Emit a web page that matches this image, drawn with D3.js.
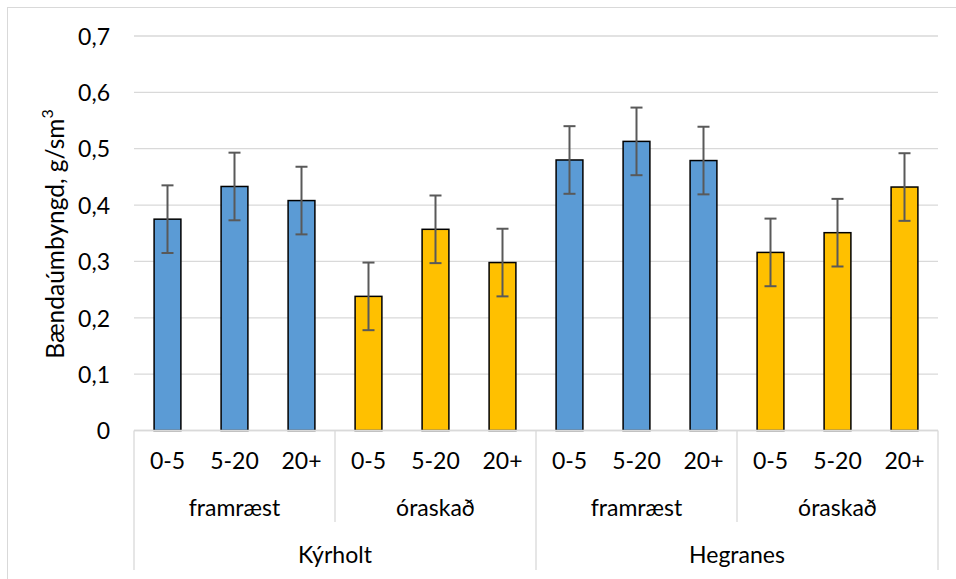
<!DOCTYPE html>
<html>
<head>
<meta charset="utf-8">
<script src="https://cdn.jsdelivr.net/npm/d3@7/dist/d3.min.js"></script>
<style>
  html, body { margin: 0; padding: 0; background: #fff; }
  svg { display: block; }
  text { font-family: "Lato", "Open Sans", sans-serif; fill: #000; }
</style>
</head>
<body>
<svg id="chart" width="956" height="579"></svg>
<script>
// ---- data ----
const sites = ["Kýrholt", "Hegranes"];
const treatments = ["framræst", "óraskað"];
const depths = ["0-5", "5-20", "20+"];
const values = [0.375, 0.433, 0.408, 0.238, 0.357, 0.298, 0.480, 0.513, 0.479, 0.316, 0.351, 0.432];
const errors = [0.06, 0.06, 0.06, 0.06, 0.06, 0.06, 0.06, 0.06, 0.06, 0.06, 0.06, 0.06];
const yTicks = [0, 0.1, 0.2, 0.3, 0.4, 0.5, 0.6, 0.7];
const yTickLabels = ["0", "0,1", "0,2", "0,3", "0,4", "0,5", "0,6", "0,7"];
const treatmentColors = ["#5B9BD5", "#FFC000"];

(function () {
const rows = [];
sites.forEach((s, si) => treatments.forEach((t, ti) => depths.forEach((d, di) => {
  const i = rows.length;
  rows.push({ id: i, site: s, treatment: t, ti, depth: d, value: values[i], err: errors[i] });
})));

const W = 956, H = 579;
const pLeft = 134, pRight = 938, pTop = 36, pBottom = 430.5;
const FS = 23;
const svg = d3.select("#chart");

svg.append("rect").attr("x", 7.5).attr("y", 7.5).attr("width", W + 20).attr("height", H + 20)
  .attr("fill", "none").attr("stroke", "#d9d9d9").attr("stroke-width", 1);

const x = d3.scaleBand().domain(rows.map(r => r.id)).range([pLeft, pRight])
  .paddingInner(0.6).paddingOuter(0.3);
const y = d3.scaleLinear().domain([0, 0.7]).range([pBottom, pTop]);
const step = x.step();
const edge = id => x(id) - (step - x.bandwidth()) / 2;

svg.append("g").selectAll("line").data(yTicks).join("line")
  .attr("x1", pLeft).attr("x2", pRight)
  .attr("y1", d => y(d)).attr("y2", d => y(d))
  .attr("stroke", "#d9d9d9").attr("stroke-width", 1.3);

const yAxis = d3.axisLeft(y).tickValues(yTicks).tickFormat((d, i) => yTickLabels[i]).tickSize(0).tickPadding(24);
const gy = svg.append("g").attr("transform", `translate(${pLeft},0)`).call(yAxis);
gy.select(".domain").remove();
gy.selectAll("text").attr("font-size", FS).attr("font-family", "Lato").attr("fill", "#000").attr("dy", "0.36em");

svg.append("g").selectAll("rect").data(rows).join("rect")
  .attr("x", d => x(d.id)).attr("width", x.bandwidth())
  .attr("y", d => y(d.value)).attr("height", d => y(0) - y(d.value))
  .attr("fill", d => treatmentColors[d.ti])
  .attr("stroke", "#000").attr("stroke-width", 1.5);

const eg = svg.append("g").attr("stroke", "#595959").attr("stroke-width", 2).attr("fill", "none");
rows.forEach(d => {
  const cx = x(d.id) + x.bandwidth() / 2;
  const y1 = y(d.value + d.err), y2 = y(d.value - d.err);
  eg.append("line").attr("x1", cx).attr("x2", cx).attr("y1", y1).attr("y2", y2);
  eg.append("line").attr("x1", cx - 6).attr("x2", cx + 6).attr("y1", y1).attr("y2", y1);
  eg.append("line").attr("x1", cx - 6).attr("x2", cx + 6).attr("y1", y2).attr("y2", y2);
});

const ax = svg.append("g");
ax.append("line").attr("x1", pLeft).attr("x2", pRight).attr("y1", pBottom).attr("y2", pBottom)
  .attr("stroke", "#d9d9d9").attr("stroke-width", 1.3);
ax.selectAll("text.depth").data(rows).join("text").attr("class", "depth")
  .attr("x", d => x(d.id) + x.bandwidth() / 2).attr("y", 469)
  .attr("text-anchor", "middle").attr("font-size", FS).text(d => d.depth);
const tGroups = d3.groups(rows, d => d.site + "|" + d.treatment).map(([k, v]) => ({
  label: v[0].treatment, x0: edge(v[0].id), x1: edge(v[v.length - 1].id) + step
}));
ax.selectAll("text.treat").data(tGroups).join("text").attr("class", "treat")
  .attr("x", d => (d.x0 + d.x1) / 2).attr("y", 516)
  .attr("text-anchor", "middle").attr("font-size", FS).text(d => d.label);
const sGroups = d3.groups(rows, d => d.site).map(([k, v]) => ({
  label: k, x0: edge(v[0].id), x1: edge(v[v.length - 1].id) + step
}));
ax.selectAll("text.site").data(sGroups).join("text").attr("class", "site")
  .attr("x", d => (d.x0 + d.x1) / 2).attr("y", 563)
  .attr("text-anchor", "middle").attr("font-size", FS).text(d => d.label);
const tDiv = tGroups.map(g => g.x0).filter(v => !sGroups.some(s => Math.abs(s.x0 - v) < 0.5));
ax.selectAll("line.tdiv").data(tDiv).join("line").attr("class", "tdiv")
  .attr("x1", d => d).attr("x2", d => d).attr("y1", pBottom).attr("y2", 522)
  .attr("stroke", "#d9d9d9").attr("stroke-width", 1.3);
const sDiv = sGroups.map(g => g.x0).concat([sGroups[sGroups.length - 1].x1]);
ax.selectAll("line.sdiv").data(sDiv).join("line").attr("class", "sdiv")
  .attr("x1", d => d).attr("x2", d => d).attr("y1", pBottom).attr("y2", 570)
  .attr("stroke", "#d9d9d9").attr("stroke-width", 1.3);

const title = svg.append("text")
  .attr("transform", "translate(64,234) rotate(-90)")
  .attr("text-anchor", "middle").attr("font-size", 24.5);
title.append("tspan").text("Bændaúmbyngd, g/sm");
title.append("tspan").attr("font-size", 16).attr("dy", "-0.7em").text("3");
})();
</script>
</body>
</html>
